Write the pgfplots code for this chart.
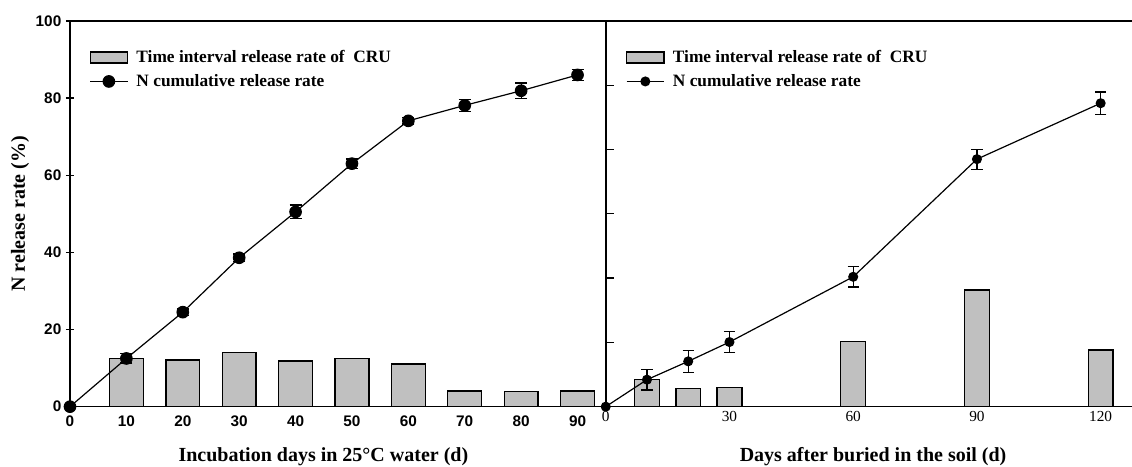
\documentclass[border=0pt]{standalone}
\usepackage{fontspec}
\setmainfont{Liberation Serif}
\newfontfamily\arial{Liberation Sans}
\usepackage{pgfplots}
\pgfplotsset{compat=1.18}
\definecolor{barfill}{RGB}{192,192,192}

\pgfplotsset{
  panel/.style={
    scale only axis, height=289.3pt, clip=false,
    ymin=0,
    axis line style={line width=1.2pt},
    x tick style={draw=none},
    y tick style={line width=0.9pt, black},
    major tick length=6pt,
    /pgf/number format/assume math mode=true,
    label style={font=\bfseries\fontsize{15}{17}\selectfont},
    legend cell align=left,
    legend style={draw=none, fill=none, inner sep=0pt, row sep=3pt,
      font=\bfseries\fontsize{13}{15}\selectfont,
      nodes={inner sep=2.2pt},
      /tikz/every odd column/.append style={column sep=4pt}},
  },
  barleg/.style={legend image code/.code={\draw[##1] (0pt,-4.2pt) rectangle (28pt,4.2pt);}},
  lineleg/.style={legend image code/.code={\draw[mark repeat=2,mark phase=2,##1] plot coordinates {(0pt,0pt) (14pt,0pt) (28pt,0pt)};}},
}

\begin{document}
\begin{tikzpicture}
% water incubation
\begin{axis}[panel, name=L, at={(0pt,0pt)}, anchor=south west,
  width=401.8pt, xmin=0, xmax=95, ymax=100,
  xtick={0,10,...,90}, ytick={0,20,...,100}, ytick pos=left, tick align=center,
  ticklabel style={font=\arial\bfseries\fontsize{11.5}{13}\selectfont},
  xlabel={Incubation days in 25\textdegree C water (d)},
  ylabel={N release rate (\%)},
  xlabel style={at={(axis description cs:0.473,-0.143)}, anchor=base},
  ylabel style={at={(axis description cs:-0.093,0.5)}, anchor=center},
  legend style={at={(axis description cs:0.036,0.932)}, anchor=north west},
]
\addplot[ybar, bar width=6, fill=barfill, draw=black, line width=1pt, barleg]
  coordinates {(10,12.4) (20,12.1) (30,14.0) (40,11.8) (50,12.5) (60,11.1) (70,4.1) (80,3.9) (90,4.1)};
\addlegendentry{Time interval release rate of\ \ CRU}
\addplot[black, line width=0.9pt, mark=*, mark size=4.3pt, lineleg,
  error bars/.cd, y dir=both, y explicit,
  error bar style={line width=0.9pt},
  error mark options={rotate=90, mark size=4.5pt, line width=0.9pt}]
  coordinates {(0,0) +- (0,0) (10,12.5) +- (0,1.2) (20,24.5) +- (0,0.8) (30,38.6) +- (0,1.0)
    (40,50.5) +- (0,1.8) (50,63.0) +- (0,1.2) (60,74.1) +- (0,0.8) (70,78.1) +- (0,1.6)
    (80,81.9) +- (0,2.0) (90,86.0) +- (0,1.4)};
\addlegendentry{N cumulative release rate}
\end{axis}
% soil burial
\begin{axis}[panel, name=R, at={(401.8pt,0pt)}, anchor=south west,
  width=394.7pt, xmin=0, xmax=127.6, ymax=120,
  axis x line*=box, axis y line*=left,
  xtick={0,30,60,90,120}, ytick={0,20,...,120}, yticklabels={}, tick align=inside,
  xticklabel style={font=\fontsize{11.5}{13}\selectfont},
  xlabel={Days after buried in the soil (d)},
  xlabel style={at={(axis description cs:0.508,-0.143)}, anchor=base},
  legend style={at={(axis description cs:0.038,0.932)}, anchor=north west},
]
\addplot[ybar, bar width=6, fill=barfill, draw=black, line width=1pt, barleg]
  coordinates {(10,8.5) (20,5.7) (30,6.0) (60,20.2) (90,36.3) (120,17.6)};
\addlegendentry{Time interval release rate of\ \ CRU}
\addplot[black, line width=0.9pt, mark=*, mark size=3.3pt, lineleg,
  error bars/.cd, y dir=both, y explicit,
  error bar style={line width=0.9pt},
  error mark options={rotate=90, mark size=4.2pt, line width=0.9pt}]
  coordinates {(0,0) +- (0,0) (10,8.4) +- (0,3.2) (20,14.1) +- (0,3.4) (30,20.1) +- (0,3.2)
    (60,40.4) +- (0,3.2) (90,77.0) +- (0,3.1) (120,94.4) +- (0,3.5)};
\addlegendentry{N cumulative release rate}
\end{axis}
\pgfresetboundingbox
\path[use as bounding box] (-52.5pt,-45.2pt) rectangle (796.5pt,305.0pt);
\end{tikzpicture}
\end{document}
